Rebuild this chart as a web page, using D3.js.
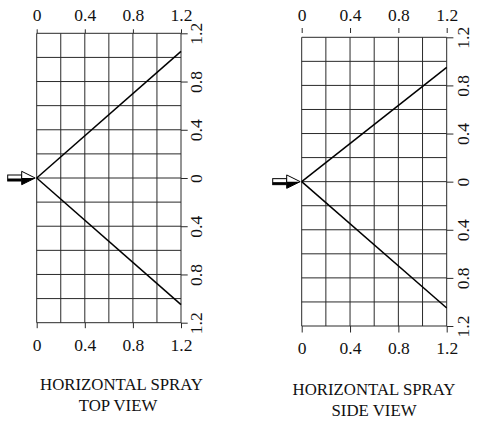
<!DOCTYPE html>
<html>
<head>
<meta charset="utf-8">
<script src="https://cdn.jsdelivr.net/npm/d3@7/dist/d3.min.js"></script>
<style>
  html, body { margin: 0; padding: 0; background: #fff; }
  svg { display: block; font-family: "Liberation Serif", "Times New Roman", serif; }
</style>
</head>
<body>
<svg id="chart" width="477" height="422"></svg>
<script>
// ---- data ----
const xTickValues = [0, 0.4, 0.8, 1.2];
const xTickLabels = ["0", "0.4", "0.8", "1.2"];
const yTickValues = [1.2, 0.8, 0.4, 0, -0.4, -0.8, -1.2];
const yTickLabels = ["1.2", "0.8", "0.4", "0", "0.4", "0.8", "1.2"];
const gridValues = [-1.2, -1.0, -0.8, -0.6, -0.4, -0.2, 0, 0.2, 0.4, 0.6, 0.8, 1.0, 1.2];
const gridXValues = [0, 0.2, 0.4, 0.6, 0.8, 1.0, 1.2];
const topViewUpper = [[0, 0], [1.2, 1.05]];
const topViewLower = [[0, 0], [1.2, -1.05]];
const sideViewUpper = [[0, 0], [1.2, 0.95]];
const sideViewLower = [[0, 0], [1.2, -1.05]];
const captionsTop = ["HORIZONTAL SPRAY", "TOP VIEW"];
const captionsSide = ["HORIZONTAL SPRAY", "SIDE VIEW"];

const svg = d3.select("#chart");

function panel(cfg) {
  const x = d3.scaleLinear().domain([0, 1.2]).range([cfg.x0, cfg.x1]);
  const y = d3.scaleLinear().domain([1.2, -1.2]).range([cfg.y0, cfg.y1]);
  const g = svg.append("g");
  const gridColor = "#2a2a2a";

  // grid
  g.selectAll("line.vg").data(gridXValues).join("line")
    .attr("x1", d => x(d)).attr("x2", d => x(d))
    .attr("y1", y(1.2)).attr("y2", y(-1.2))
    .attr("stroke", gridColor).attr("stroke-width", 1);
  g.selectAll("line.hg").data(gridValues).join("line")
    .attr("x1", x(0)).attr("x2", x(1.2))
    .attr("y1", d => y(d)).attr("y2", d => y(d))
    .attr("stroke", gridColor).attr("stroke-width", 1);

  // top axis
  const topAxis = d3.axisTop(x).tickValues(xTickValues)
    .tickFormat((d, i) => xTickLabels[i]).tickSize(cfg.topTick).tickPadding(cfg.topPad);
  const ta = g.append("g").attr("transform", `translate(0,${cfg.topAxisY})`).call(topAxis);
  // bottom axis
  const botAxis = d3.axisBottom(x).tickValues(xTickValues)
    .tickFormat((d, i) => xTickLabels[i]).tickSize(cfg.botTick).tickPadding(cfg.botPad);
  const ba = g.append("g").attr("transform", `translate(0,${y(-1.2)})`).call(botAxis);
  // right axis
  const rightAxis = d3.axisRight(y).tickValues(yTickValues)
    .tickFormat((d, i) => yTickLabels[i]).tickSize(cfg.rightTick);
  const ra = g.append("g").attr("transform", `translate(${x(1.2)},0)`).call(rightAxis);
  ra.selectAll("text")
    .attr("x", null).attr("dy", null)
    .attr("text-anchor", "middle")
    .attr("transform", `translate(${cfg.rightLabelX},0) rotate(-90)`);

  [ta, ba, ra].forEach(a => {
    a.attr("font-size", 17.5).attr("font-family", "'Liberation Serif', 'Times New Roman', serif");
    a.select(".domain").remove();
    a.selectAll(".tick line").attr("stroke", gridColor);
    a.selectAll("text").attr("fill", "#111");
  });

  // spray lines
  const line = d3.line().x(d => x(d[0])).y(d => y(d[1]));
  [cfg.upper, cfg.lower].forEach(data => {
    g.append("path").datum(data).attr("d", line)
      .attr("fill", "none").attr("stroke", "#000").attr("stroke-width", 1.5);
  });

  // arrow (shaded block arrow)
  const tipX = x(0) - 1.5, cy = y(0);
  const hw = 13.5, hh = 6.7, sl = 14, sh = 3;
  const ag = g.append("g");
  const headL = tipX - hw;
  ag.append("rect").attr("x", headL - sl).attr("y", cy - sh).attr("width", sl).attr("height", sh * 2)
    .attr("fill", "#fff").attr("stroke", "#000").attr("stroke-width", 1);
  ag.append("rect").attr("x", headL - sl).attr("y", cy + 0.5).attr("width", sl).attr("height", sh - 0.5)
    .attr("fill", "#000");
  ag.append("path").attr("d", `M${headL},${cy - hh} L${tipX},${cy} L${headL},${cy + hh} Z`)
    .attr("fill", "#fff").attr("stroke", "#000").attr("stroke-width", 1).attr("stroke-linejoin", "miter");
  ag.append("path").attr("d", `M${headL},${cy} L${tipX},${cy} L${headL},${cy + hh} Z`)
    .attr("fill", "#000");

  // captions
  cfg.captions.forEach((t, i) => {
    g.append("text").attr("x", cfg.capX[i]).attr("y", cfg.capY[i])
      .attr("text-anchor", "middle").attr("font-size", 16.8).attr("fill", "#111")
      .text(t);
  });
}

panel({
  x0: 36.7, x1: 181, y0: 33.3, y1: 322.7,
  topAxisY: 33.3, topTick: 4, topPad: 8.5,
  botTick: 5.5, botPad: 10,
  rightTick: 6.7, rightLabelX: 21,
  upper: topViewUpper, lower: topViewLower,
  captions: captionsTop, capX: [121.5, 118], capY: [390, 411]
});

panel({
  x0: 301.7, x1: 446.7, y0: 37.3, y1: 326,
  topAxisY: 33, topTick: 5, topPad: 7.5,
  botTick: 6.5, botPad: 9.5,
  rightTick: 6.7, rightLabelX: 22.5,
  upper: sideViewUpper, lower: sideViewLower,
  captions: captionsSide, capX: [374, 374], capY: [395, 416]
});
</script>
</body>
</html>
